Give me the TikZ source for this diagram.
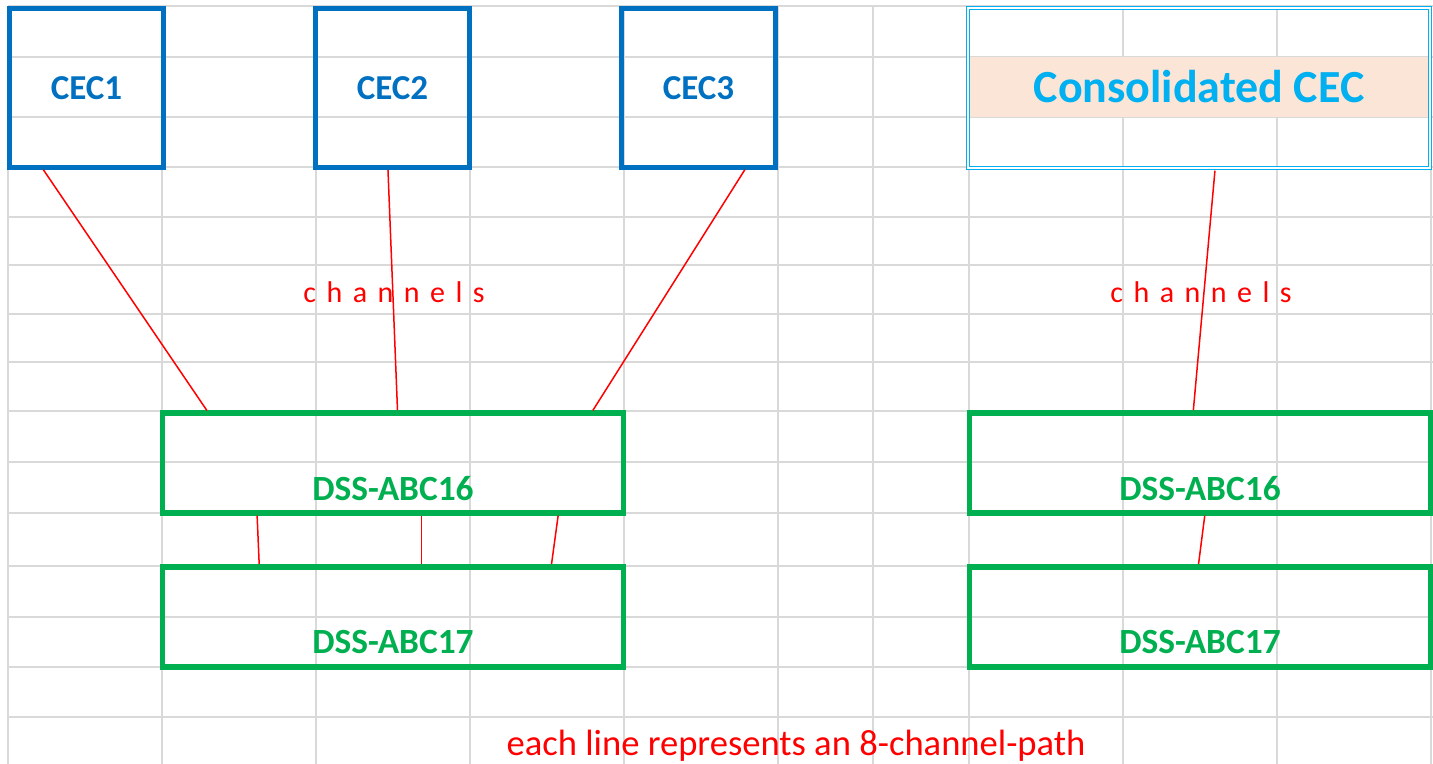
\documentclass[tikz,border=0pt]{standalone}
\usepackage{fontspec}
\setmainfont{Carlito}
\newfontfamily\spacedfont[LetterSpace=35]{Carlito}
\usetikzlibrary{positioning, calc}

\definecolor{cecblue}{HTML}{0070C0}
\definecolor{consblue}{HTML}{00B0F0}
\definecolor{dssgreen}{HTML}{00B050}
\definecolor{peach}{HTML}{FBE5D6}
\definecolor{gridgray}{HTML}{D9D9D9}
\definecolor{chanred}{HTML}{FF0000}

\tikzset{
	gridline/.style={draw=gridgray, line width=0.9pt},
	cecbox/.style={draw=cecblue, line width=2.5pt, minimum width=77pt, minimum height=79.5pt, inner sep=0pt, outer sep=0pt, text=cecblue, font=\bfseries\fontsize{17.5}{19}\selectfont},
	consbox/.style={draw=consblue, double=white, line width=0.5pt, double distance=0.7pt, minimum width=231pt, minimum height=80pt, inner sep=0pt, outer sep=0pt},
	dssbox/.style={draw=dssgreen, line width=2.9pt, minimum width=230.5pt, minimum height=50pt, inner sep=0pt, outer sep=0pt},
	dsslabel/.style={text=dssgreen, font=\bfseries\fontsize{17.7}{19}\selectfont, inner sep=0pt},
	chanline/.style={draw=chanred, line width=0.75pt, shorten <=1.3pt, shorten >=1.5pt},
	chanlabel/.style={text=chanred, font=\spacedfont\fontsize{15}{17}\selectfont, inner sep=0pt}
}

\begin{document}
\begin{tikzpicture}[x=0.5pt, y=-0.5pt]
		\useasboundingbox (0,0) rectangle (1433,764);
		
		% sheet grid
		\foreach \gx in {8,162,316,470,624,778,873,969,1123,1277,1431}
			\draw[gridline] (\gx,6) -- (\gx,764);
		\foreach \gy in {6,57,117,167,217,265,314,362,411,462,513,566,617,667,717}
			\draw[gridline] (8,\gy) -- (1433,\gy);
		
		% left side
		\node[cecbox] (cec1) at (86.5,88) {\raisebox{-2pt}{CEC1}};
		\node[cecbox, right = 76pt of cec1] (cec2) {\raisebox{-2pt}{CEC2}};
		\node[cecbox, right = 76pt of cec2] (cec3) {\raisebox{-2pt}{CEC3}};
		\node[dssbox] (dss16) at (393,463) {};
		\node[dssbox, below = 27pt of dss16] (dss17) {};
		\node[dsslabel, anchor=base] (dss16label) at ([yshift=6.5pt]dss16.south) {DSS-ABC16};
		\node[dsslabel, anchor=base] (dss17label) at ([yshift=7pt]dss17.south) {DSS-ABC17};
		\node[chanlabel, anchor=base] (chan1) at (394,303) {channels};
		
		% right side
		\node[consbox] (cons) at (1199,88) {};
		\node[fill=peach, minimum width=229pt, minimum height=30pt, inner sep=0pt, text=consblue, font=\bfseries\fontsize{23}{25}\selectfont] (constitle) at ([yshift=0.5pt]cons.center) {\raisebox{-1pt}{Consolidated CEC}};
		\node[dssbox] (rdss16) at (1200,463) {};
		\node[dssbox, below = 27pt of rdss16] (rdss17) {};
		\node[dsslabel, anchor=base] (rdss16label) at ([yshift=6.5pt]rdss16.south) {DSS-ABC16};
		\node[dsslabel, anchor=base] (rdss17label) at ([yshift=7pt]rdss17.south) {DSS-ABC17};
		\node[chanlabel, anchor=base] (chan2) at (1201,303) {channels};
		
		\node[text=chanred, font=\fontsize{18.3}{20}\selectfont, anchor=base, inner sep=0pt] (note) at (796,755) {each line represents an 8-channel-path};
		
		% channel paths
		\draw[chanline] ($(cec1.south west)!0.21!(cec1.south east)$) -- ($(dss16.north west)!0.10!(dss16.north east)$);
		\draw[chanline] ($(cec2.south west)!0.47!(cec2.south east)$) -- ($(dss16.north west)!0.51!(dss16.north east)$);
		\draw[chanline] ($(cec3.south west)!0.81!(cec3.south east)$) -- ($(dss16.north west)!0.93!(dss16.north east)$);
		\draw[chanline] ($(dss16.south west)!0.205!(dss16.south east)$) -- ($(dss17.north west)!0.21!(dss17.north east)$);
		\draw[chanline] ($(dss16.south west)!0.562!(dss16.south east)$) -- ($(dss17.north west)!0.562!(dss17.north east)$);
		\draw[chanline] ($(dss16.south west)!0.859!(dss16.south east)$) -- ($(dss17.north west)!0.843!(dss17.north east)$);
		\draw[chanline] ($(cons.south west)!0.535!(cons.south east)$) -- ($(rdss16.north west)!0.485!(rdss16.north east)$);
		\draw[chanline] ($(rdss16.south west)!0.511!(rdss16.south east)$) -- ($(rdss17.north west)!0.496!(rdss17.north east)$);
		
		\end{tikzpicture}
\end{document}
